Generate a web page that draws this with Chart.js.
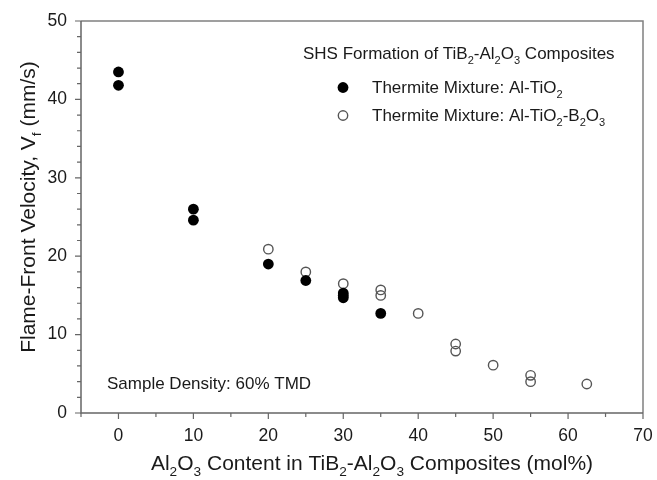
<!DOCTYPE html>
<html><head><meta charset="utf-8">
<script src="https://cdn.jsdelivr.net/npm/chart.js@4.4.0/dist/chart.umd.min.js"></script>
<style>html,body{margin:0;padding:0;background:#fff;}#wrap{width:657px;height:480px;}</style>
</head><body><div id="wrap"><canvas id="c" width="657" height="480"></canvas></div>
<script>
// Data
const alTiO2X = [0, 0, 10, 10, 20, 25, 30, 30, 30, 35];
const alTiO2Y = [43.5, 41.8, 26.0, 24.6, 19.0, 16.9, 15.3, 15.0, 14.7, 12.7];
const alTiO2B2O3X = [20, 25, 30, 35, 35, 40, 45, 45, 50, 55, 55, 62.5];
const alTiO2B2O3Y = [20.9, 18.0, 16.5, 15.7, 15.0, 12.7, 8.8, 7.9, 6.1, 4.8, 4.0, 3.7];
const xTickLabels = [0, 10, 20, 30, 40, 50, 60, 70];
const yTickLabels = [0, 10, 20, 30, 40, 50];
const seriesNames = ['Thermite Mixture: Al-TiO|2', 'Thermite Mixture: Al-TiO|2|-B|2|O|3'];

const FONT = '"Liberation Sans", Arial, sans-serif';
const TEXT = '#1a1a1a';
const AXIS = '#666666';

function toSegs(s) { // alternate normal|sub|normal...
  return s.split('|').map((t, i) => ({ t, sub: i % 2 === 1 }));
}
function richWidth(ctx, segs, size) {
  let w = 0;
  for (const s of segs) { ctx.font = (s.sub ? size * 0.65 : size) + 'px ' + FONT; w += ctx.measureText(s.t).width; }
  return w;
}
function drawRich(ctx, segs, x, y, size, align) {
  const w = richWidth(ctx, segs, size);
  let cx = align === 'center' ? x - w / 2 : (align === 'right' ? x - w : x);
  ctx.textAlign = 'left'; ctx.textBaseline = 'alphabetic';
  for (const s of segs) {
    const fs = s.sub ? size * 0.65 : size;
    ctx.font = fs + 'px ' + FONT;
    ctx.fillText(s.t, cx, s.sub ? y + size * 0.27 : y);
    cx += ctx.measureText(s.t).width;
  }
}

const deco = {
  id: 'deco',
  afterDraw(chart) {
    const ctx = chart.ctx, a = chart.chartArea;
    const xs = chart.scales.x, ys = chart.scales.y;
    ctx.save();
    // frame
    ctx.strokeStyle = '#808080'; ctx.lineWidth = 1.5;
    ctx.beginPath();
    ctx.moveTo(a.left, a.top); ctx.lineTo(a.right, a.top); ctx.lineTo(a.right, a.bottom);
    ctx.stroke();
    ctx.strokeStyle = AXIS;
    ctx.beginPath();
    ctx.moveTo(a.left, a.top); ctx.lineTo(a.left, a.bottom); ctx.lineTo(a.right, a.bottom);
    ctx.stroke();
    // ticks (x: major every 10, minor every 5; y: major every 10, minor every 2)
    ctx.lineWidth = 1.2;
    ctx.beginPath();
    for (let v = -5; v <= 70; v += 5) {
      const px = xs.getPixelForValue(v);
      const len = (v % 10 === 0) ? 6 : 4;
      ctx.moveTo(px, a.bottom); ctx.lineTo(px, a.bottom + len);
    }
    for (let v = 0; v <= 50; v += 2) {
      const py = ys.getPixelForValue(v);
      const len = (v % 10 === 0) ? 6 : 4;
      ctx.moveTo(a.left, py); ctx.lineTo(a.left - len, py);
    }
    ctx.stroke();

    ctx.fillStyle = TEXT;
    // x title
    drawRich(ctx, toSegs('Al|2|O|3| Content in TiB|2|-Al|2|O|3| Composites (mol%)'), 372, 470, 21, 'center');
    // y title
    ctx.save();
    ctx.translate(35, 207); ctx.rotate(-Math.PI / 2);
    drawRich(ctx, toSegs('Flame-Front Velocity, V|f| (mm/s)'), 0, 0, 21, 'center');
    ctx.restore();
    // legend
    drawRich(ctx, toSegs('SHS Formation of TiB|2|-Al|2|O|3| Composites'), 303, 59, 17, 'left');
    const ds = chart.data.datasets;
    const ly = [87.5, 115.5];
    ds.forEach((d, i) => {
      ctx.beginPath();
      ctx.arc(343, ly[i], d.pointRadius, 0, Math.PI * 2);
      if (d.backgroundColor && d.backgroundColor !== 'rgba(0,0,0,0)') { ctx.fillStyle = d.backgroundColor; ctx.fill(); }
      if (d.pointBorderWidth > 0) { ctx.strokeStyle = d.borderColor; ctx.lineWidth = d.pointBorderWidth; ctx.stroke(); }
      ctx.fillStyle = TEXT;
      drawRich(ctx, toSegs(seriesNames[i]), 372, ly[i] + 5.5, 17, 'left');
    });
    // annotation
    ctx.font = '17px ' + FONT;
    ctx.textAlign = 'left'; ctx.textBaseline = 'alphabetic';
    ctx.fillText('Sample Density: 60% TMD', 107, 389);
    ctx.restore();
  }
};

new Chart(document.getElementById('c'), {
  type: 'scatter',
  data: {
    datasets: [
      { label: 'Al-TiO2', data: alTiO2X.map((x, i) => ({ x, y: alTiO2Y[i] })),
        pointRadius: 5.4, backgroundColor: '#000000', borderColor: '#000000', pointBorderWidth: 0, borderWidth: 0 },
      { label: 'Al-TiO2-B2O3', data: alTiO2B2O3X.map((x, i) => ({ x, y: alTiO2B2O3Y[i] })),
        pointRadius: 4.7, backgroundColor: 'rgba(0,0,0,0)', borderColor: '#555555', pointBorderWidth: 1.4, borderWidth: 1.4 }
    ]
  },
  options: {
    responsive: false, animation: false, devicePixelRatio: 1,
    layout: { padding: { left: 0, top: 21, right: 14, bottom: 0 } },
    plugins: { legend: { display: false }, tooltip: { enabled: false } },
    scales: {
      x: { type: 'linear', min: -5, max: 70,
        afterFit(s) { s.height = 67; s.paddingLeft = 0; s.paddingRight = 0; },
        afterBuildTicks(s) { s.ticks = xTickLabels.map(v => ({ value: v })); },
        ticks: { autoSkip: false, padding: 13, color: TEXT, font: { size: 17.5, family: FONT }, maxRotation: 0 },
        grid: { display: false, drawTicks: false }, border: { display: false } },
      y: { min: 0, max: 50,
        afterFit(s) { s.width = 81; s.paddingTop = 0; s.paddingBottom = 0; },
        afterBuildTicks(s) { s.ticks = yTickLabels.map(v => ({ value: v })); },
        ticks: { padding: 14, color: TEXT, font: { size: 17.5, family: FONT } },
        grid: { display: false, drawTicks: false }, border: { display: false } }
    }
  },
  plugins: [deco]
});
</script></body></html>
